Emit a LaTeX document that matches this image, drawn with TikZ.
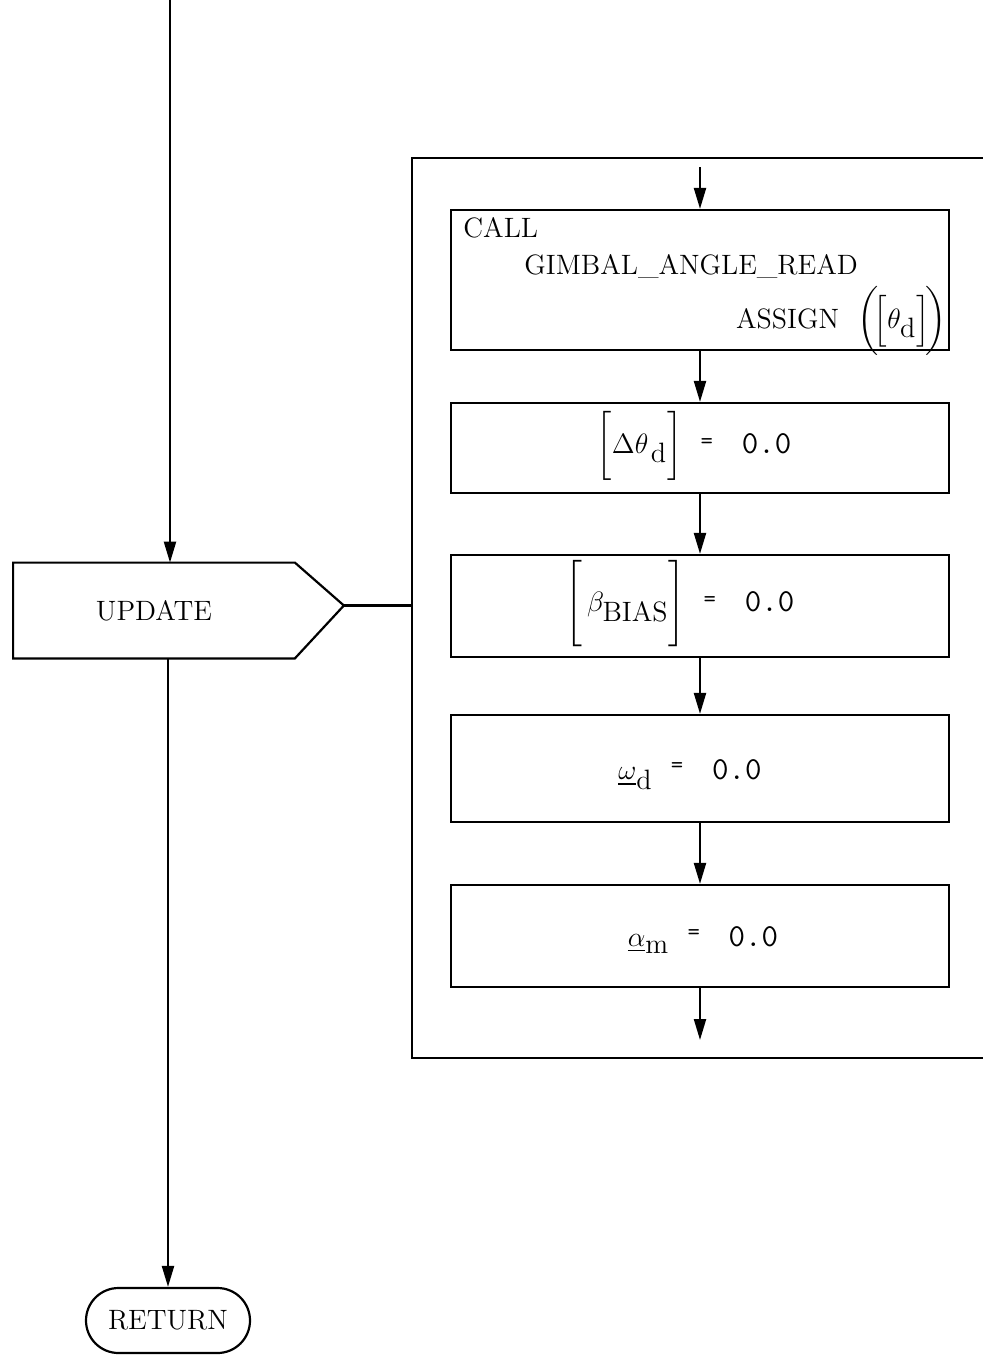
\RequirePackage{fix-cm}
\documentclass[tikz,border=0pt]{standalone}
\usepackage{amsmath}
\usepackage{fontspec}
\usetikzlibrary{arrows.meta,shapes.misc,calc}
\tikzset{
  ln/.style={line width=1.1pt},
  arr/.style={ln,-{Triangle[length=10.5pt,width=6pt]}},
  stepbox/.style={draw,ln,rectangle,minimum width=249pt,inner sep=0pt},
  txt/.style={inner sep=0pt},
  retbox/.style={draw,ln,rounded rectangle,minimum width=82pt,minimum height=32.5pt,inner sep=0pt}
}
\newcommand{\eqzero}[1]{\texttt{\raisebox{#1}{\fontsize{12}{14}\selectfont=}\ \ {\fontsize{16}{18}\selectfont 0.0}}}
\begin{document}
\begin{tikzpicture}[x=0.5pt,y=-0.5pt,font=\fontsize{14}{17}\selectfont]
\useasboundingbox (0,0) rectangle (983,1355);
% left column
\coordinate (top) at (170,0);
\node[txt,minimum width=140.5pt,minimum height=47.5pt] (upd) at (154,610.5) {UPDATE};
\draw[ln] (upd.north west) -- (upd.north east) -- ($(upd.east)+(49,-5)$) coordinate (updtip) -- (upd.south east) -- (upd.south west) -- cycle;
\draw[arr] (top) -- (top |- upd.north);
\node[retbox] (ret) at (168,1320.5) {RETURN};
\draw[arr] (ret.north |- upd.south) -- (ret.north);
% frame
\coordinate (fTR) at (983,158);
\coordinate (fTL) at (412,158);
\coordinate (fBL) at (412,1058);
\coordinate (fBR) at (983,1058);
\draw[ln] (fTR) -- (fTL) -- (fBL) -- (fBR);
\draw[ln] (updtip) -- (updtip -| fTL);
% boxes
\node[stepbox,minimum height=70pt] (call) at (700,280) {};
\node[stepbox,minimum height=45pt] (b1) at (700,448) {};
\node[stepbox,minimum height=51pt] (b2) at (700,606) {};
\node[stepbox,minimum height=53.5pt] (b3) at (700,768.5) {};
\node[stepbox,minimum height=51pt] (b4) at (700,936) {};
\coordinate (in) at (700,167);
\coordinate (out) at (700,1040);
\draw[arr] (in) -- (call.north);
\draw[arr] (call.south) -- (b1.north);
\draw[arr] (b1.south) -- (b2.north);
\draw[arr] (b2.south) -- (b3.north);
\draw[arr] (b3.south) -- (b4.north);
\draw[arr] (b4.south) -- (out);
% texts
\node[txt,anchor=west] (t1) at (463,228) {CALL};
\node[txt,anchor=west] (t2) at (524,266) {GIMBAL\_ANGLE\_READ};
\node[txt,anchor=east] (t3) at (947,321) {ASSIGN\ \ $\biggl(\!\Bigl[\theta_{\textstyle\mathrm d}\Bigr]\!\biggr)$};
\node[txt] (t4) at (694,446) {$\biggl[\Delta\theta_{\,\textstyle\mathrm d}\biggr]$\ \ \eqzero{.35ex}};
\node[txt] (t5) at (680,604) {$\Biggl[\,\beta_{\textstyle\mathrm{BIAS}}\Biggr]$\ \ \eqzero{.35ex}};
\node[txt] (t6) at (690,775) {$\underline{\omega}_{\textstyle\mathrm d}$\ \ \eqzero{.6ex}};
\node[txt] (t7) at (703,940) {$\underline{\alpha}_{\textstyle\mathrm m}$\ \ \eqzero{.6ex}};
\end{tikzpicture}
\end{document}
